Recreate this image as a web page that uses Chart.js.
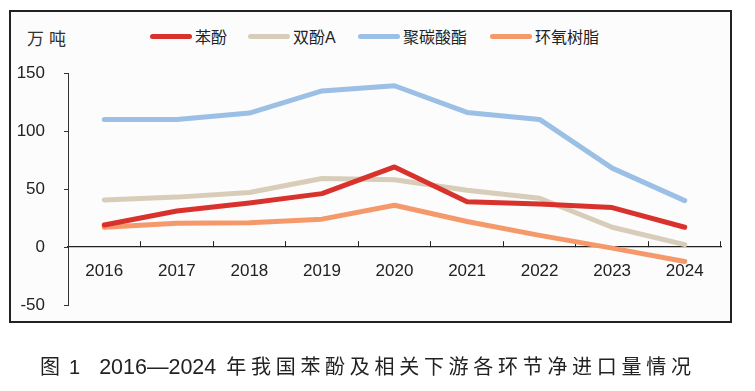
<!DOCTYPE html>
<html>
<head>
<meta charset="utf-8">
<script src="https://cdn.jsdelivr.net/npm/chart.js@4.4.1/dist/chart.umd.min.js"></script>
<style>
  html,body{margin:0;padding:0;background:#fff;width:755px;height:391px;overflow:hidden;}
  body{position:relative;font-family:"Liberation Sans","Noto Sans CJK SC",sans-serif;color:#222;}
  #frame{position:absolute;left:9px;top:10px;width:719px;height:309px;border:2px solid #222;background:#fcfcfc;}
  #wrap{position:absolute;left:0;top:0;width:755px;height:391px;}
  #unit{position:absolute;left:27px;top:25px;font-size:17px;letter-spacing:5px;color:#333;}
  #legend{position:absolute;top:24px;left:0;font-size:16px;color:#222;}
  .li{position:absolute;white-space:nowrap;display:flex;align-items:center;}
  .sw{display:inline-block;width:42px;height:5px;border-radius:3px;margin-right:3px;}
  #caption{position:absolute;left:40px;top:351px;font-size:20px;color:#222;white-space:nowrap;}
  #caption span{display:inline-block;}
  #caption .one{margin-left:9px;}
  #caption .num{margin-left:19px;letter-spacing:0;font-size:21.5px;}
  #caption .cj{margin-left:10px;letter-spacing:4.7px;}
</style>
</head>
<body>
<div id="frame"></div>
<div id="unit">万吨</div>
<div id="legend"></div>
<div id="wrap"><canvas id="c" width="755" height="391"></canvas></div>
<div id="caption"><span>图</span><span class="one">1</span><span class="num">2016—2024</span><span class="cj">年我国苯酚及相关下游各环节净进口量情况</span></div>
<script>
const categories = ['2016','2017','2018','2019','2020','2021','2022','2023','2024'];
const seriesNames = ['苯酚','双酚A','聚碳酸酯','环氧树脂'];
const phenol = [19, 31, 38, 46, 69, 39, 37, 34, 17];
const bpa = [40.5, 43, 47, 59, 58, 49, 42, 17, 2];
const polycarbonate = [110, 110, 115.5, 134.5, 139, 116, 110, 68, 40];
const epoxy = [17, 20.5, 21, 24, 36, 22, 10, -1, -12.5];
const yTicks = [-50, 0, 50, 100, 150];
const colors = ['#d9322d', '#d7cdb9', '#9bbfe5', '#f5996a'];

const legendX = [150, 248, 358, 490];
const legend = document.getElementById('legend');
seriesNames.forEach((n, i) => {
  const d = document.createElement('div');
  d.className = 'li';
  d.style.left = legendX[i] + 'px';
  d.innerHTML = '<span class="sw" style="background:' + colors[i] + '"></span><span>' + n + '</span>';
  legend.appendChild(d);
});

const values = [phenol, bpa, polycarbonate, epoxy];
const chart = new Chart(document.getElementById('c'), {
  type: 'line',
  data: {
    labels: categories,
    datasets: seriesNames.map((n, i) => ({
      label: n,
      data: values[i],
      borderColor: colors[i],
      backgroundColor: colors[i],
      borderWidth: 5,
      pointRadius: 0,
      tension: 0,
      borderCapStyle: 'round',
      borderJoinStyle: 'round'
    }))
  },
  options: {
    responsive: false,
    animation: false,
    layout: {padding: {top: 73, bottom: 86, right: 34, left: 0}},
    plugins: {legend: {display: false}, tooltip: {enabled: false}},
    scales: {
      x: {
        position: {y: 0},
        offset: true,
        grid: {display: true, drawOnChartArea: false, drawTicks: true, tickLength: -6, color: '#222', offset: true},
        border: {display: true, color: '#222', width: 1.2},
        ticks: {color: '#222', font: {family: '"Liberation Sans", Arial, sans-serif', size: 17}, padding: 20, maxRotation: 0}
      },
      y: {
        min: -50, max: 150,
        afterFit: s => { s.width = 68; },
        afterBuildTicks: s => { s.ticks = yTicks.map(v => ({value: v})); },
        grid: {display: true, drawOnChartArea: false, drawTicks: true, tickLength: 4, color: '#333'},
        border: {display: true, color: '#333', width: 1},
        ticks: {color: '#222', font: {family: '"Liberation Sans", Arial, sans-serif', size: 17}, padding: 19}
      }
    }
  }
});
</script>
</body>
</html>
